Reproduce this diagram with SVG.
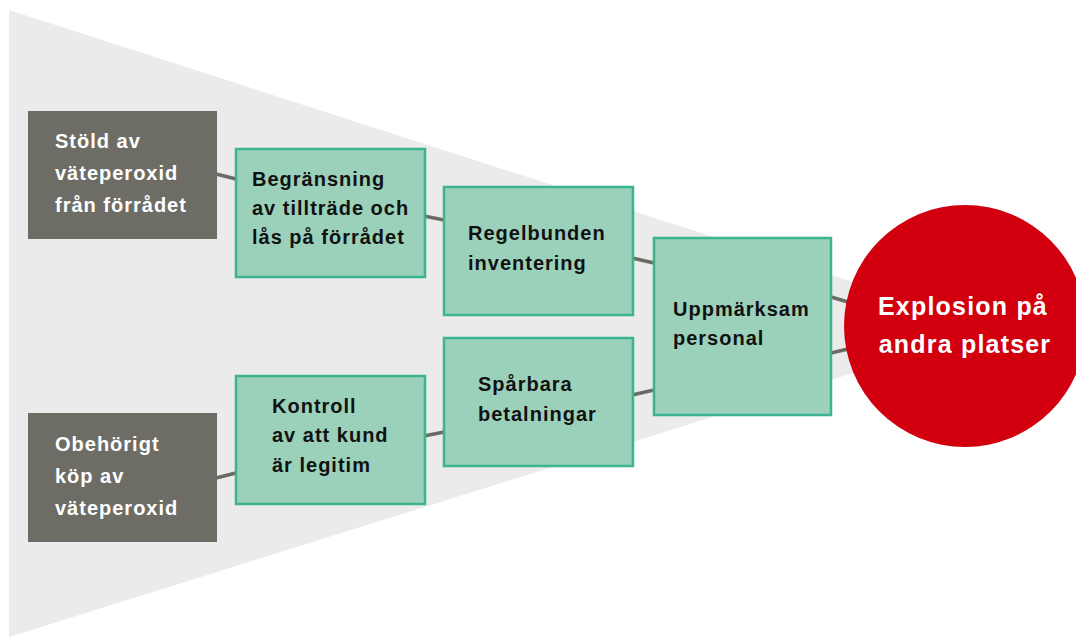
<svg xmlns="http://www.w3.org/2000/svg" width="1076" height="637" viewBox="0 0 1076 637">
<style>
.src{fill:#6d6d66}
.ctl{fill:#9bd1bb;stroke:#3bb48f;stroke-width:2.5}
.t{font-family:"Liberation Sans",Arial,sans-serif;font-weight:bold;font-size:20px;letter-spacing:1px}
.w{fill:#ffffff}
.k{fill:#111111}
.c line{stroke:#6b6b64;stroke-width:3.5}
.big{font-family:"Liberation Sans",Arial,sans-serif;font-weight:bold;font-size:25px;letter-spacing:1.2px;fill:#ffffff}
</style>
<rect width="1076" height="637" fill="#ffffff"/>
<polygon points="9,10 965,318 965,338 9,637" fill="#ebebeb"/>
<g class="c" id="connectors">
<line x1="216" y1="174" x2="236" y2="179"/>
<line x1="424" y1="216" x2="444" y2="220"/>
<line x1="632" y1="258" x2="654" y2="263"/>
<line x1="632" y1="395" x2="654" y2="390"/>
<line x1="424" y1="436" x2="444" y2="432"/>
<line x1="216" y1="478" x2="236" y2="473"/>
<line x1="831" y1="297" x2="848" y2="302"/>
<line x1="831" y1="353" x2="848" y2="349"/>
</g>
<g id="n_stold">
<rect class="src" x="28" y="111" width="189" height="128"/>
<text class="t w" x="55" y="148">Stöld av</text>
<text class="t w" x="55" y="180">väteperoxid</text>
<text class="t w" x="55" y="212">från förrådet</text>
</g>
<g id="n_obehorigt">
<rect class="src" x="28" y="413" width="189" height="129"/>
<text class="t w" x="55" y="451">Obehörigt</text>
<text class="t w" x="55" y="483">köp av</text>
<text class="t w" x="55" y="515">väteperoxid</text>
</g>
<g id="n_begransning">
<rect class="ctl" x="236" y="149" width="189" height="128"/>
<text class="t k" x="252" y="186">Begränsning</text>
<text class="t k" x="252" y="215">av tillträde och</text>
<text class="t k" x="252" y="244">lås på förrådet</text>
</g>
<g id="n_regelbunden">
<rect class="ctl" x="444" y="187" width="189" height="128"/>
<text class="t k" x="468" y="240">Regelbunden</text>
<text class="t k" x="468" y="270">inventering</text>
</g>
<g id="n_kontroll">
<rect class="ctl" x="236" y="376" width="189" height="128"/>
<text class="t k" x="272" y="413">Kontroll</text>
<text class="t k" x="272" y="442">av att kund</text>
<text class="t k" x="272" y="472">är legitim</text>
</g>
<g id="n_sparbara">
<rect class="ctl" x="444" y="338" width="189" height="128"/>
<text class="t k" x="478" y="391">Spårbara</text>
<text class="t k" x="478" y="421">betalningar</text>
</g>
<g id="n_uppmarksam">
<rect class="ctl" x="654" y="238" width="177" height="177"/>
<text class="t k" x="673" y="316">Uppmärksam</text>
<text class="t k" x="673" y="345">personal</text>
</g>
<g id="n_explosion">
<circle cx="965" cy="326" r="121" fill="#d2000f"/>
<text class="big" x="963" y="315" text-anchor="middle">Explosion på</text>
<text class="big" x="965" y="353" text-anchor="middle">andra platser</text>
</g>
</svg>
